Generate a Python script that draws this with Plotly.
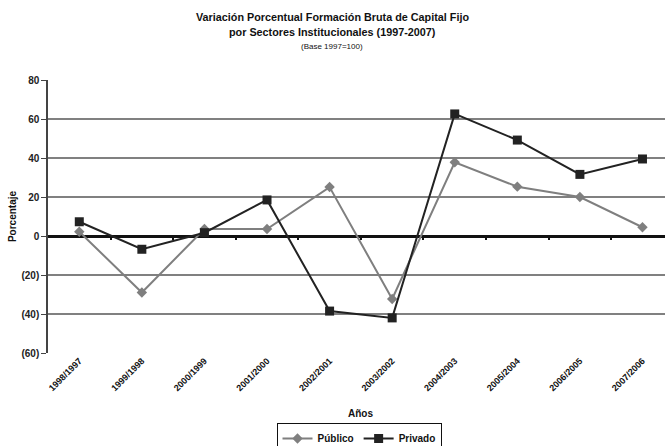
import plotly.graph_objects as go

categorias = ["1998/1997", "1999/1998", "2000/1999", "2001/2000", "2002/2001",
              "2003/2002", "2004/2003", "2005/2004", "2006/2005", "2007/2006"]
publico = [2.2, -29.0, 3.6, 3.6, 25.1, -32.3, 37.8, 25.3, 20.0, 4.5]
privado = [7.3, -6.8, 1.7, 18.5, -38.5, -42.0, 62.6, 49.2, 31.6, 39.5]
y_ticks = [-60, -40, -20, 0, 20, 40, 60, 80]
y_ticktext = ["(60)", "(40)", "(20)", "0", "20", "40", "60", "80"]

FONT = "Liberation Sans Narrow, Arial Narrow, Liberation Sans, Arial, sans-serif"
xi = list(range(len(categorias)))

fig = go.Figure()
fig.add_trace(go.Scatter(
    x=xi, y=publico, name="Público", mode="lines+markers",
    line=dict(color="#7f7f7f", width=2),
    marker=dict(symbol="diamond", size=8, color="#7f7f7f")))
fig.add_trace(go.Scatter(
    x=xi, y=privado, name="Privado", mode="lines+markers",
    line=dict(color="#222222", width=2),
    marker=dict(symbol="square", size=9, color="#222222")))
fig.add_trace(go.Scatter(x=[None], y=[None], xaxis="x2", showlegend=False, hoverinfo="skip"))

fig.update_layout(
    width=665, height=446,
    margin=dict(l=48, r=0, t=80, b=93, autoexpand=False),
    paper_bgcolor="white", plot_bgcolor="white",
    font=dict(family=FONT, color="#111111"),
    showlegend=True,
    legend=dict(orientation="h", x=359 / 665, xref="container", xanchor="center",
                y=(446 - 423) / 446, yref="container", yanchor="top",
                bordercolor="#111111", borderwidth=1,
                font=dict(size=10, family=FONT, weight="bold"),
                itemwidth=30, tracegroupgap=0),
    xaxis=dict(
        range=[-0.5, 9.36], tickmode="array", tickvals=xi, ticktext=categorias,
        tickangle=-45, ticks="", showgrid=False, zeroline=False, showline=False,
        automargin=False,
        tickfont=dict(size=9, family=FONT, weight="bold", color="#111111")),
    xaxis2=dict(
        overlaying="x", anchor="free", position=60 / 140, range=[-0.5, 9.36],
        tickmode="array", tickvals=[v + 0.5 for v in xi[:-1]],
        showticklabels=False, ticks="outside", ticklen=3, tickwidth=1.5,
        tickcolor="#111111", showgrid=False, zeroline=False, showline=False,
        automargin=False),
    yaxis=dict(
        range=[-60, 80], tickmode="array", tickvals=y_ticks, ticktext=y_ticktext,
        showgrid=True, gridcolor="#808080", gridwidth=1.5,
        zeroline=True, zerolinecolor="#111111", zerolinewidth=2.5,
        showline=True, linecolor="#444444", linewidth=1.5,
        ticks="outside", ticklen=5, tickcolor="#444444", automargin=False,
        tickfont=dict(size=10, family=FONT, weight="bold", color="#222222"),
        title=dict(text="Porcentaje", standoff=3,
                   font=dict(size=10, family=FONT, weight="bold", color="#111111"))),
)

titles = [
    ("<b>Variación Porcentual Formación Bruta de Capital Fijo</b>", 17, 10.8),
    ("<b>por Sectores Institucionales (1997-2007)</b>", 32, 10.8),
    ("(Base 1997=100)", 46, 8),
]
for text, ypix, size in titles:
    fig.add_annotation(text=text, x=(332 - 48) / 617, xref="paper", xanchor="center",
                       y=(353 - ypix) / 273, yref="paper", yanchor="middle",
                       showarrow=False,
                       font=dict(size=size, family=FONT, color="#111111"))
fig.add_annotation(text="<b>Años</b>", x=4.5, xref="x", y=(353 - 413) / 273, yref="paper",
                   yanchor="middle", showarrow=False,
                   font=dict(size=10, family=FONT, color="#111111"))

fig.write_html("out.html", config={"displayModeBar": False},
               post_script="document.body.style.margin='0';document.body.style.overflow='hidden';")
